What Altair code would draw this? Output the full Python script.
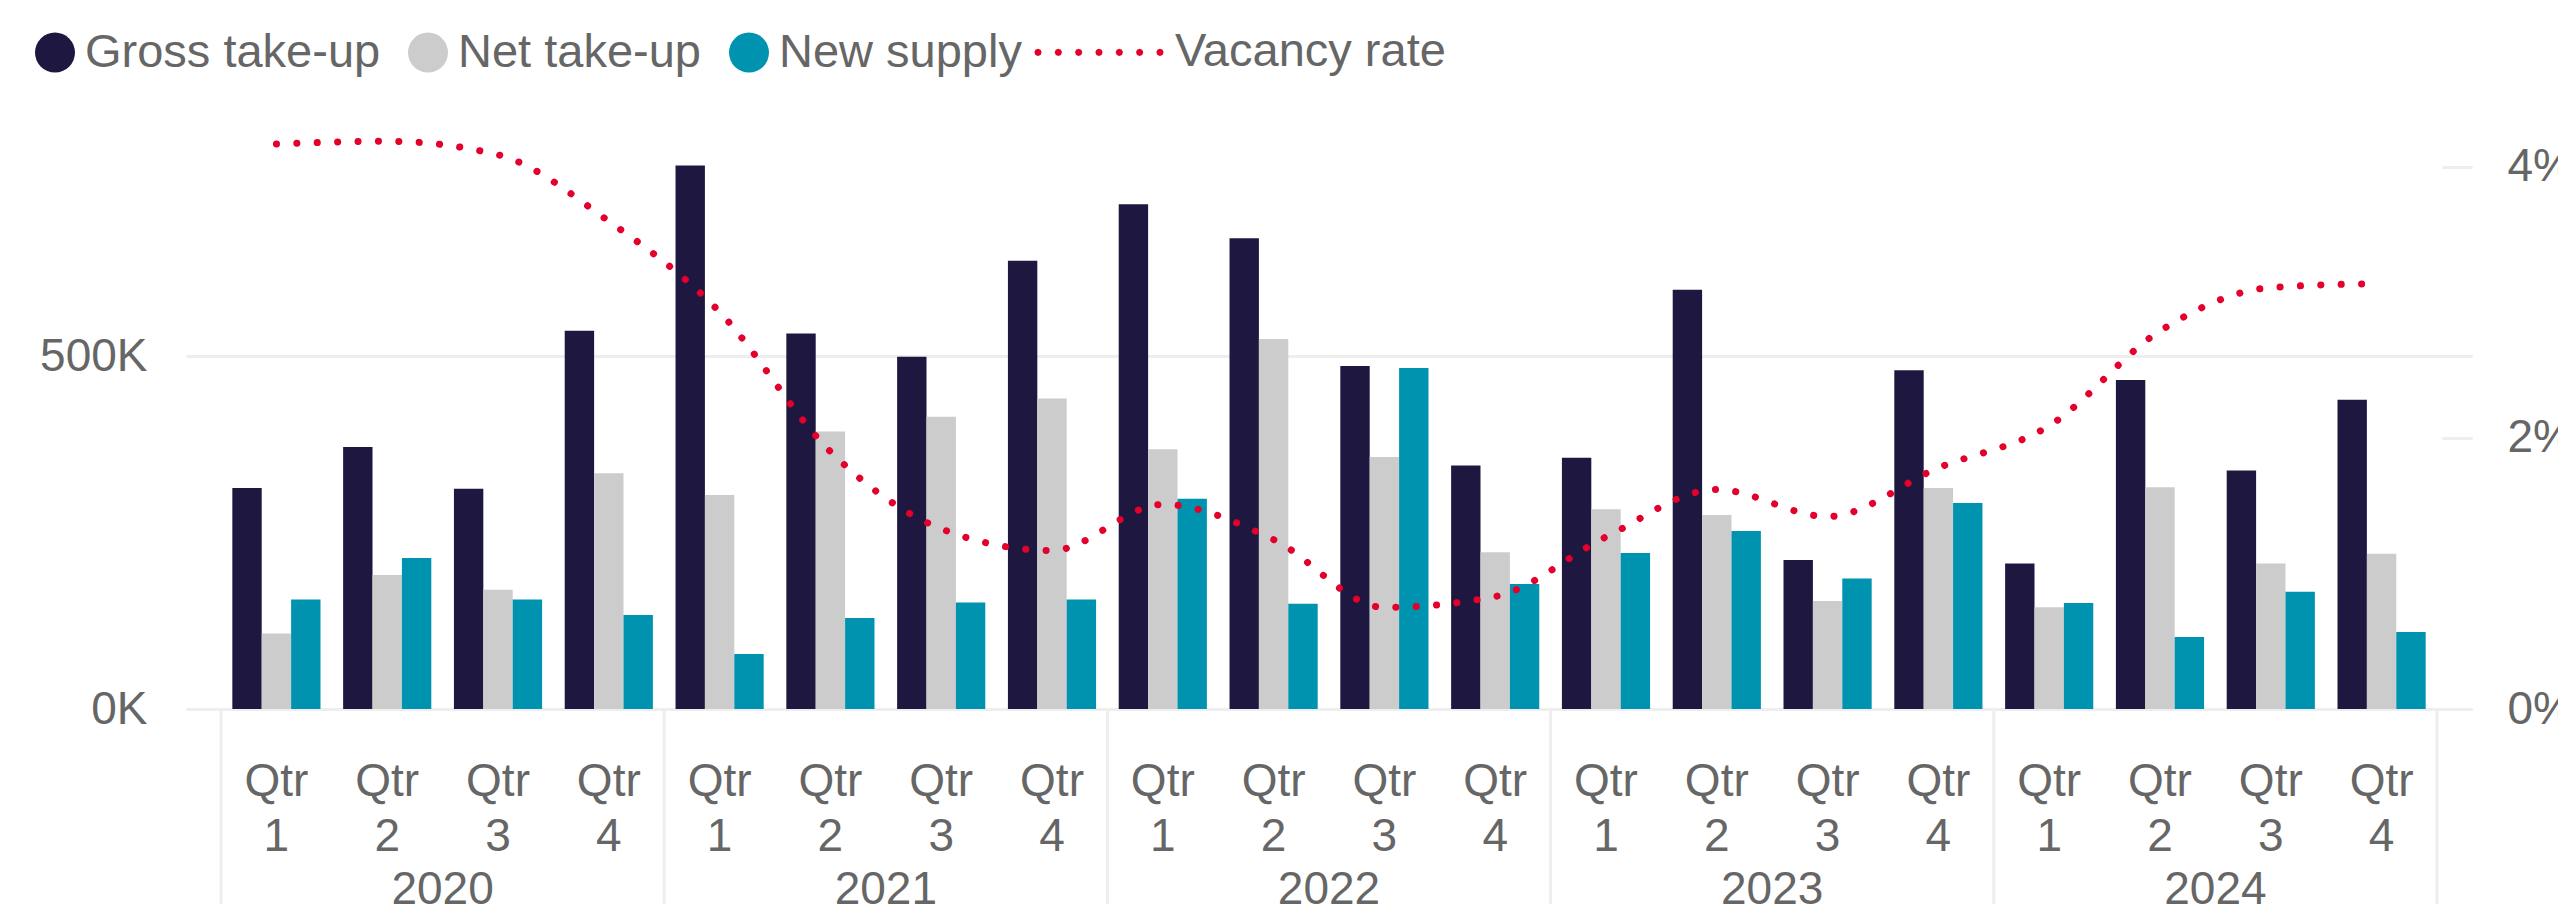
import math
import altair as alt
import pandas as pd

# ---------------- data ----------------
years = ["2020", "2021", "2022", "2023", "2024"]
quarters = ["1", "2", "3", "4"]
periods = [f"{y} Q{q}" for y in years for q in quarters]

series_names = ["Gross take-up", "Net take-up", "New supply"]
gross_k = [313, 371, 312, 536, 770, 532, 499, 635, 715, 667,
           486, 345, 356, 594, 211, 480, 206, 466, 338, 438]
net_k = [107, 190, 169, 334, 303, 393, 414, 440, 368, 524,
         357, 222, 283, 275, 153, 313, 144, 314, 206, 220]
supply_k = [155, 214, 155, 133, 78, 129, 151, 155, 298, 149,
            483, 177, 221, 252, 185, 292, 150, 102, 166, 109]
vacancy_pct = [4.17, 4.19, 4.09, 3.60, 2.93, 1.90, 1.33, 1.17, 1.51, 1.25,
               0.75, 0.83, 1.27, 1.62, 1.42, 1.78, 2.09, 2.79, 3.11, 3.14]

bar_colors = ["#1E1840", "#CCCCCC", "#0093AF"]
red = "#E4002B"
FONT = "Liberation Sans"
TXT = "#666666"
GRID = "#EEEEEE"

W, H = 2284, 600

bars_df = pd.DataFrame({
    "period": periods * 3,
    "series": [s for s in series_names for _ in periods],
    "value": [v * 1000 for v in gross_k + net_k + supply_k],
})
line_df = pd.DataFrame({
    "period": periods,
    "series": ["Vacancy rate"] * len(periods),
    "rate": [v / 100 for v in vacancy_pct],
})
div_df = pd.DataFrame({"period": [f"{y} Q1" for y in years]})
end_df = pd.DataFrame({"period": [periods[-1]]})
year_df = pd.DataFrame({"period": [f"{y} Q2" for y in years], "year": years})

# dotted legend symbol (row of small octagons, unit scale = 20px)
def dot_path():
    parts = []
    r = 0.0875
    for k in range(7):
        c = (-17 + 20.33 * k) / 20.0
        pts = [(c + r * math.cos(a * math.pi / 4), r * math.sin(a * math.pi / 4)) for a in range(8)]
        parts.append("M" + " L".join(f"{px:.4f},{py:.4f}" for px, py in pts) + " Z")
    return " ".join(parts)

x_scale = alt.Scale(domain=periods, paddingInner=0, paddingOuter=0.307)
x_axis = alt.Axis(
    title=None, domain=False, ticks=False, tickSize=0, grid=False, labelAngle=0,
    labelFont=FONT, labelFontSize=46, labelColor=TXT, labelPadding=50.5,
    labelLineHeight=55, labelOverlap=False, labelAlign="center", labelBaseline="top",
    labelExpr="['Qtr', substring(datum.value, 6)]",
)

bars = alt.Chart(bars_df).mark_bar().encode(
    x=alt.X("period:N", scale=x_scale, axis=x_axis),
    xOffset=alt.XOffset("series:N", scale=alt.Scale(domain=series_names, paddingInner=0, paddingOuter=0.385)),
    y=alt.Y("value:Q", scale=alt.Scale(domain=[0, 850000], nice=False),
            axis=alt.Axis(title=None, values=[0, 500000], labelExpr="datum.value / 1000 + 'K'",
                          grid=True, gridColor=GRID, gridWidth=3, gridCap="round",
                          domain=False, ticks=False, labelPadding=40,
                          labelFont=FONT, labelFontSize=46, labelColor=TXT)),
    color=alt.Color("series:N", scale=alt.Scale(domain=series_names, range=bar_colors),
                    legend=alt.Legend(orient="none", legendX=-155.5, legendY=-80.2,
                                      direction="horizontal", columns=3, title=None,
                                      symbolType="circle", symbolSize=1600, symbolStrokeWidth=0,
                                      labelFont=FONT, labelFontSize=47, labelColor=TXT,
                                      labelLimit=1000,
                                      labelOffset=6.5, columnPadding=24, padding=0)),
)

line = alt.Chart(line_df).mark_line(interpolate="monotone", strokeCap="round").encode(
    x=alt.X("period:N", scale=x_scale, axis=x_axis),
    y=alt.Y("rate:Q", scale=alt.Scale(domain=[0, 0.04428], nice=False),
            axis=alt.Axis(orient="right", title=None, values=[0, 0.02, 0.04], format=".0%",
                          grid=False, domain=False, ticks=True, tickSize=28, tickWidth=3,
                          tickColor=GRID, tickCap="round", offset=-28, labelPadding=36,
                          labelAlign="left", labelFont=FONT, labelFontSize=46, labelColor=TXT)),
    stroke=alt.Stroke("series:N", scale=alt.Scale(domain=["Vacancy rate"], range=[red]),
                      legend=alt.Legend(orient="none", legendX=844.5, legendY=-80.2, title=None,
                                        symbolType=dot_path(), symbolSize=1600, symbolStrokeWidth=3.5,
                                        labelFont=FONT, labelFontSize=47, labelColor=TXT,
                                        labelLimit=1000,
                                        labelOffset=96.5, padding=0)),
    strokeDash=alt.value([0.1, 20.3]),
    strokeWidth=alt.value(7),
)

div = alt.Chart(div_df).mark_rule(color=GRID, strokeWidth=3).encode(
    x=alt.X("period:N", scale=x_scale, axis=x_axis, bandPosition=0),
    y=alt.value(H), y2=alt.value(H + 210),
)
end = alt.Chart(end_df).mark_rule(color=GRID, strokeWidth=3).encode(
    x=alt.X("period:N", scale=x_scale, axis=x_axis, bandPosition=1),
    y=alt.value(H), y2=alt.value(H + 210),
)
yr = alt.Chart(year_df).mark_text(font=FONT, fontSize=46, color=TXT, baseline="middle", align="center").encode(
    x=alt.X("period:N", scale=x_scale, axis=x_axis, bandPosition=1),
    y=alt.value(781),
    text="year:N",
)

chart = alt.layer(bars, line, div, end, yr).resolve_scale(y="independent").properties(
    width=W, height=H,
    autosize=alt.AutoSizeParams(type="none"),
    padding={"left": 179, "top": 101, "right": 87, "bottom": 195},
).configure(
    font=FONT, background="white", view=alt.ViewConfig(stroke=None)
)

chart.save("out.html", embed_options={"renderer": "svg", "actions": False})
